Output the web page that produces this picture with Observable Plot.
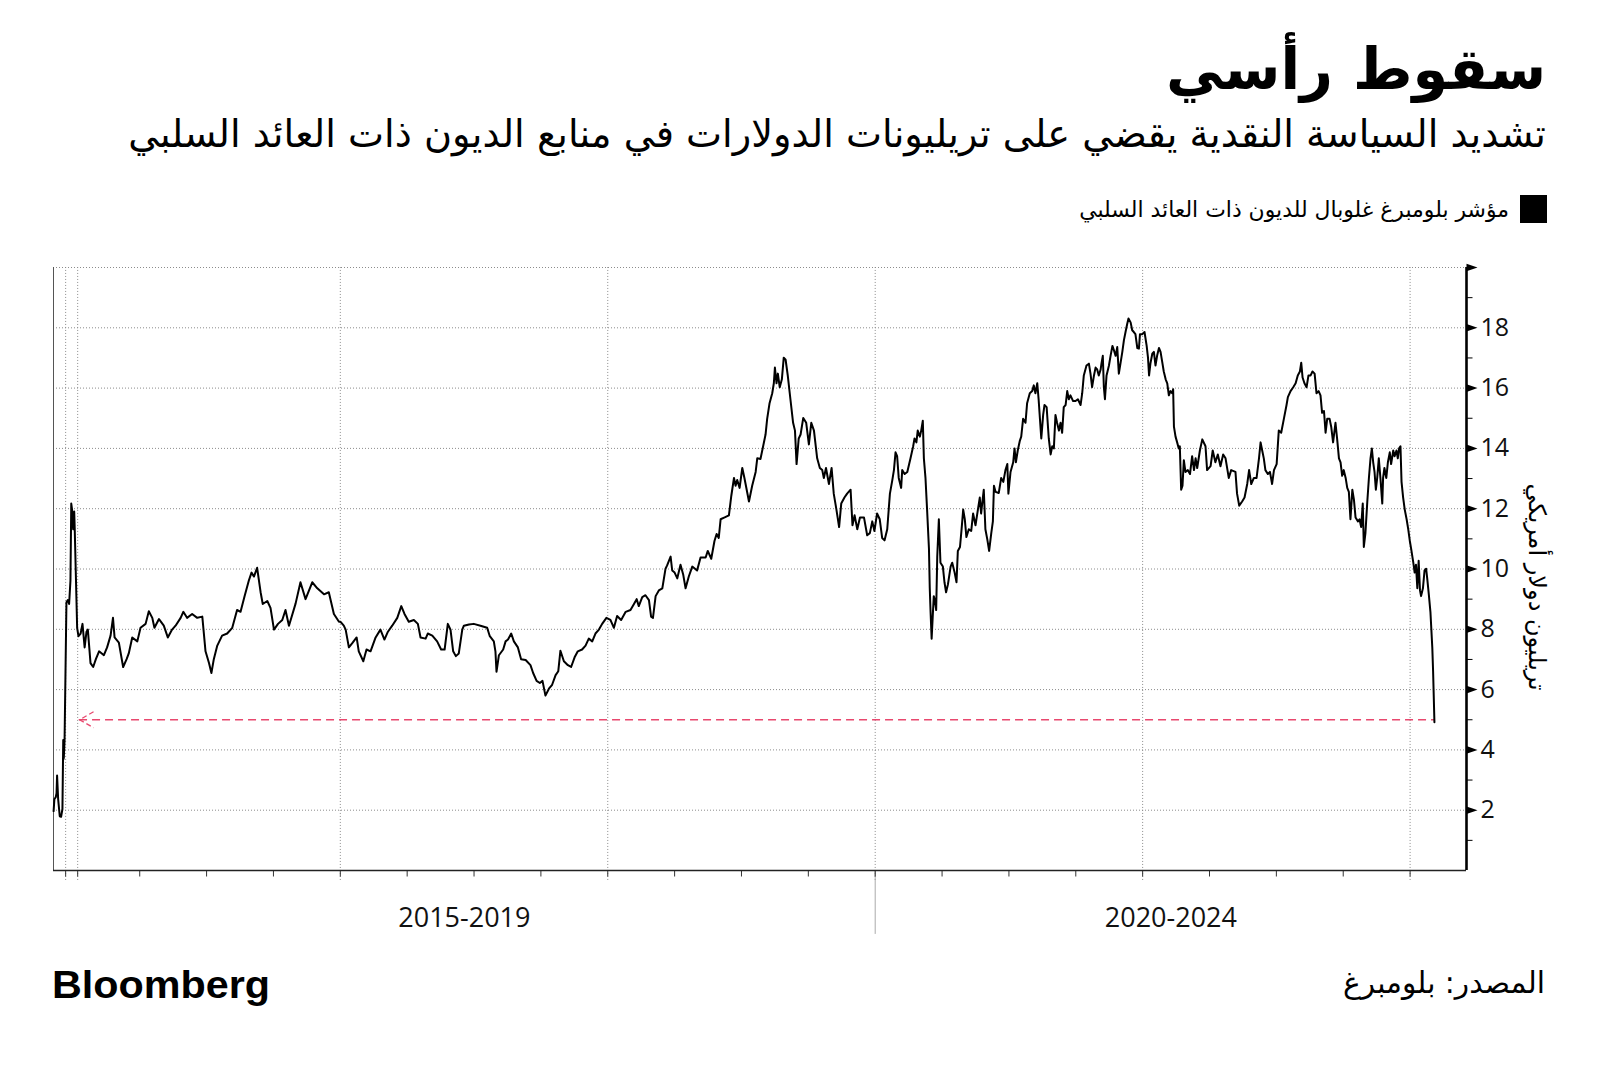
<!DOCTYPE html>
<html lang="ar">
<head>
<meta charset="utf-8">
<script src="https://cdn.jsdelivr.net/npm/d3@7"></script>
<script src="https://cdn.jsdelivr.net/npm/@observablehq/plot@0.6"></script>
<style>
  html, body { margin: 0; padding: 0; background: #fff; }
  #page { position: relative; width: 1600px; height: 1069px; background: #fff; overflow: hidden; }
  #header, #footer { position: absolute; left: 0; }
  #header { top: 0; }
  #footer { top: 960px; }
  #chart { position: absolute; left: 0; top: 240px; }
  .ar { font-family: "DejaVu Sans", "Noto Sans", sans-serif; }
</style>
</head>
<body>
<div id="page">
  <svg id="header" width="1600" height="240">
    <text class="ar" data-fit="380" x="1546" y="89" text-anchor="end" font-weight="bold" font-size="58" fill="#000">سقوط رأسي</text>
    <text class="ar" data-fit="1418" x="1546" y="147" text-anchor="end" font-size="36" fill="#000">تشديد السياسة النقدية يقضي على تريليونات الدولارات في منابع الديون ذات العائد السلبي</text>
    <rect x="1520" y="195" width="27" height="28" fill="#000"></rect>
    <text class="ar" data-fit="430" x="1509" y="217" text-anchor="end" font-size="23" fill="#000">مؤشر بلومبرغ غلوبال للديون ذات العائد السلبي</text>
  </svg>
  <div id="chart"></div>
  <svg id="footer" width="1600" height="109">
    <text x="52" y="38" font-family="Liberation Sans, Arial, sans-serif" font-weight="bold" font-size="38" textLength="218" lengthAdjust="spacingAndGlyphs" fill="#000">Bloomberg</text>
    <text class="ar" data-fit="202" x="1545" y="33" text-anchor="end" font-size="30" fill="#000">المصدر: بلومبرغ</text>
  </svg>
</div>
<script>
// ---- Data (decimal year, trillion USD) ----
const points = [
[2016.928,1.97],[2016.931,2.37],[2016.936,2.43],[2016.939,2.56],[2016.941,3.15],[2016.945,2.37],[2016.951,1.80],[2016.956,1.78],[2016.961,2.04],[2016.964,4.33],[2016.966,3.71],[2016.969,4.33],[2016.976,8.90],[2016.981,8.97],[2016.986,8.84],[2016.991,9.62],[2016.994,12.17],[2016.997,11.97],[2017.001,11.32],[2017.005,11.91],[2017.007,11.32],[2017.016,8.05],[2017.021,7.77],[2017.029,7.86],[2017.036,8.18],[2017.044,7.40],[2017.051,7.92],[2017.056,7.99],[2017.066,6.88],[2017.076,6.75],[2017.086,7.01],[2017.098,7.27],[2017.116,7.14],[2017.128,7.40],[2017.141,7.79],[2017.150,8.38],[2017.156,7.73],[2017.172,7.56],[2017.188,6.75],[2017.201,7.01],[2017.209,7.20],[2017.222,7.73],[2017.241,7.60],[2017.253,8.05],[2017.272,8.18],[2017.284,8.60],[2017.297,8.38],[2017.305,8.05],[2017.322,8.34],[2017.340,8.12],[2017.355,7.73],[2017.371,7.99],[2017.384,8.12],[2017.403,8.38],[2017.413,8.58],[2017.427,8.38],[2017.446,8.51],[2017.465,8.38],[2017.484,8.42],[2017.496,7.27],[2017.509,6.88],[2017.518,6.55],[2017.527,7.01],[2017.540,7.46],[2017.558,7.79],[2017.577,7.86],[2017.596,8.05],[2017.614,8.64],[2017.627,8.58],[2017.642,9.10],[2017.658,9.62],[2017.668,9.88],[2017.677,9.75],[2017.689,10.04],[2017.702,9.23],[2017.710,8.84],[2017.727,8.94],[2017.739,8.71],[2017.752,7.99],[2017.767,8.18],[2017.783,8.31],[2017.795,8.64],[2017.808,8.12],[2017.833,8.86],[2017.851,9.56],[2017.870,9.00],[2017.895,9.56],[2017.914,9.36],[2017.939,9.16],[2017.957,9.23],[2017.976,8.51],[2017.995,8.25],
[2018.001,8.25],[2018.013,8.12],[2018.020,7.99],[2018.032,7.40],[2018.044,7.53],[2018.061,7.73],[2018.069,7.27],[2018.086,6.94],[2018.098,7.33],[2018.113,7.27],[2018.132,7.73],[2018.150,7.99],[2018.165,7.66],[2018.178,7.92],[2018.194,8.12],[2018.213,8.38],[2018.228,8.77],[2018.240,8.51],[2018.256,8.25],[2018.275,8.31],[2018.290,8.18],[2018.300,7.73],[2018.319,7.69],[2018.327,7.86],[2018.344,7.79],[2018.362,7.60],[2018.377,7.33],[2018.390,7.33],[2018.402,8.18],[2018.412,7.99],[2018.422,7.27],[2018.432,7.11],[2018.443,7.20],[2018.456,7.99],[2018.462,8.12],[2018.481,8.16],[2018.499,8.18],[2018.524,8.12],[2018.549,8.05],[2018.559,7.77],[2018.574,7.60],[2018.580,7.27],[2018.584,6.59],[2018.593,7.14],[2018.609,7.33],[2018.618,7.60],[2018.627,7.66],[2018.639,7.86],[2018.649,7.60],[2018.664,7.40],[2018.676,7.01],[2018.693,6.98],[2018.711,6.81],[2018.721,6.55],[2018.734,6.29],[2018.746,6.22],[2018.756,6.29],[2018.767,5.80],[2018.780,6.03],[2018.792,6.16],[2018.805,6.48],[2018.815,6.61],[2018.823,7.29],[2018.836,6.94],[2018.851,6.81],[2018.863,6.75],[2018.876,7.07],[2018.888,7.27],[2018.904,7.33],[2018.917,7.46],[2018.929,7.69],[2018.942,7.60],[2018.954,7.86],[2018.967,7.99],[2018.979,8.18],[2018.995,8.38],[2019.010,8.31],[2019.023,8.05],[2019.035,8.44],[2019.050,8.31],[2019.067,8.58],
[2019.085,8.64],[2019.098,8.84],[2019.108,9.00],[2019.116,8.77],[2019.129,9.07],[2019.141,9.13],[2019.154,8.97],[2019.162,8.42],[2019.169,8.38],[2019.179,9.10],[2019.191,9.29],[2019.204,9.36],[2019.216,10.01],[2019.222,10.12],[2019.235,10.41],[2019.241,9.95],[2019.250,9.88],[2019.260,9.69],[2019.272,10.14],[2019.282,9.82],[2019.291,9.36],[2019.303,9.75],[2019.316,10.08],[2019.334,9.95],[2019.347,10.38],[2019.366,10.38],[2019.374,10.60],[2019.387,10.34],[2019.399,10.93],[2019.407,11.16],[2019.415,11.03],[2019.422,11.65],[2019.437,11.71],[2019.453,11.78],[2019.462,12.43],[2019.472,13.02],[2019.478,12.76],[2019.484,12.95],[2019.493,12.69],[2019.503,13.35],[2019.511,13.02],[2019.528,12.24],[2019.540,12.76],[2019.553,13.22],[2019.559,13.67],[2019.571,13.65],[2019.581,14.07],[2019.590,14.46],[2019.596,14.98],[2019.605,15.50],[2019.615,15.83],[2019.621,16.16],[2019.625,16.68],[2019.631,16.16],[2019.636,16.48],[2019.643,16.03],[2019.651,16.29],[2019.658,17.01],[2019.665,16.94],[2019.673,16.42],[2019.683,15.63],[2019.693,14.85],[2019.700,14.59],[2019.706,13.48],[2019.714,14.33],[2019.721,14.46],[2019.731,15.01],[2019.742,14.85],[2019.752,14.13],[2019.761,14.85],[2019.771,14.59],[2019.783,13.67],[2019.793,13.35],[2019.802,13.28],[2019.808,13.02],[2019.816,13.35],[2019.827,12.82],[2019.837,13.35],[2019.845,12.50],[2019.855,11.97],[2019.865,11.39],[2019.873,12.17],[2019.885,12.37],[2019.895,12.50],[2019.908,12.63],[2019.915,11.45],[2019.923,11.78],[2019.933,11.32],[2019.943,11.71],[2019.958,11.71],[2019.970,11.12],[2019.980,11.19],[2019.989,11.58],[2019.997,11.26],[2020.007,11.84],[2020.017,11.65],[2020.026,11.03],[2020.035,10.95],[2020.045,11.32],[2020.055,12.50],[2020.064,12.95],[2020.070,13.28],[2020.076,13.87],[2020.082,13.74],[2020.088,13.02],[2020.097,12.69],
[2020.101,13.28],[2020.110,13.15],[2020.120,13.22],[2020.132,13.67],[2020.142,14.07],[2020.147,14.33],[2020.154,14.20],[2020.159,14.59],[2020.167,14.39],[2020.172,14.59],[2020.178,14.92],[2020.182,13.67],[2020.188,13.02],[2020.194,11.97],[2020.201,10.67],[2020.204,9.36],[2020.207,8.58],[2020.211,7.69],[2020.216,8.58],[2020.219,9.10],[2020.223,8.97],[2020.228,8.64],[2020.232,10.41],[2020.238,11.65],[2020.244,10.21],[2020.253,10.08],[2020.259,9.56],[2020.265,9.23],[2020.272,9.49],[2020.282,10.08],[2020.288,10.21],[2020.297,9.88],[2020.304,9.56],[2020.309,10.60],[2020.317,10.73],[2020.323,11.32],[2020.329,11.97],[2020.335,11.65],[2020.341,11.06],[2020.350,11.32],[2020.359,11.26],[2020.366,11.84],[2020.375,11.45],[2020.384,11.97],[2020.391,12.37],[2020.396,11.84],[2020.401,12.24],[2020.406,12.63],[2020.412,11.32],[2020.419,10.99],[2020.426,10.60],[2020.434,11.19],[2020.440,11.58],[2020.444,12.76],[2020.450,12.56],[2020.462,12.52],[2020.471,13.02],[2020.479,12.89],[2020.487,13.28],[2020.494,13.48],[2020.498,12.50],[2020.506,13.22],[2020.516,13.54],[2020.521,14.00],[2020.526,13.54],[2020.533,13.93],[2020.541,14.26],[2020.546,14.39],[2020.553,14.98],[2020.562,14.85],[2020.568,15.50],[2020.578,15.83],[2020.587,15.90],[2020.593,16.09],[2020.599,15.83],[2020.606,16.16],[2020.611,15.63],[2020.616,14.98],[2020.621,14.33],[2020.628,15.11],[2020.633,15.44],[2020.641,15.37],[2020.649,14.33],[2020.656,13.80],[2020.662,14.07],[2020.668,14.00],[2020.674,15.11],[2020.680,14.85],[2020.687,14.59],[2020.693,14.85],[2020.699,14.52],[2020.705,15.37],[2020.712,15.44],[2020.718,15.90],[2020.724,15.63],[2020.730,15.76],[2020.740,15.57],[2020.749,15.57],[2020.758,15.63],[2020.768,15.44],[2020.774,15.83],[2020.780,16.42],[2020.790,16.75],[2020.799,16.81],[2020.805,16.48],[2020.811,16.03],[2020.818,16.42],[2020.824,16.68],[2020.830,16.62],[2020.836,16.42],[2020.843,16.62],[2020.846,16.81],[2020.851,17.07],[2020.855,16.03],[2020.859,15.63],[2020.865,16.42],[2020.874,16.75],[2020.880,17.07],[2020.887,17.40],[2020.892,17.27],[2020.899,17.07],[2020.905,17.36],[2020.911,16.48],[2020.917,16.81],[2020.924,17.20],[2020.930,17.59],[2020.936,17.86],[2020.942,18.12],[2020.947,18.31],[2020.955,18.18],[2020.961,17.92],[2020.967,17.86],[2020.973,17.79],[2020.980,17.33],[2020.986,17.31],[2020.990,17.79],[2020.998,17.79],[2021.007,17.86],[2021.015,17.40],[2021.020,17.01],[2021.024,16.42],[2021.029,16.81],[2021.036,17.14],[2021.042,17.20],[2021.048,16.75],[2021.054,17.07],[2021.061,17.33],[2021.067,17.20],[2021.073,16.88],[2021.079,16.55],[2021.086,16.29],[2021.092,16.16],[2021.098,15.76],[2021.104,15.90],[2021.110,15.83],[2021.114,15.96],[2021.117,14.72],[2021.123,14.39],[2021.129,14.20],[2021.135,14.00],[2021.139,14.07],[2021.144,12.63],[2021.149,12.76],[2021.154,13.61],[2021.160,13.22],[2021.169,13.28],[2021.177,13.15],[2021.185,13.74],[2021.192,13.28],[2021.198,13.67],[2021.204,13.35],[2021.214,13.93],
[2021.223,14.30],[2021.235,14.07],[2021.241,13.28],[2021.254,13.41],[2021.262,13.93],[2021.272,13.54],[2021.281,13.80],[2021.291,13.41],[2021.301,13.80],[2021.310,13.67],[2021.322,13.02],[2021.331,13.28],[2021.347,13.22],[2021.353,12.50],[2021.361,12.10],[2021.372,12.24],[2021.381,12.37],[2021.391,12.82],[2021.398,13.28],[2021.406,12.82],[2021.416,13.02],[2021.426,13.02],[2021.435,13.67],[2021.441,14.20],[2021.447,13.93],[2021.453,13.67],[2021.459,13.28],[2021.468,13.15],[2021.476,13.22],[2021.484,12.82],[2021.491,13.28],[2021.501,13.48],[2021.509,14.59],[2021.518,14.52],[2021.528,14.98],[2021.538,15.44],[2021.543,15.70],[2021.553,15.90],[2021.563,16.03],[2021.572,16.16],[2021.580,16.42],[2021.588,16.55],[2021.593,16.84],[2021.598,16.35],[2021.605,16.16],[2021.613,16.03],[2021.620,16.42],[2021.628,16.42],[2021.635,16.55],[2021.643,16.48],[2021.650,15.83],[2021.658,15.90],[2021.665,15.76],[2021.671,15.18],[2021.678,15.24],[2021.684,14.52],[2021.690,14.98],[2021.699,14.98],[2021.705,14.72],[2021.712,14.20],[2021.721,14.85],[2021.727,14.33],[2021.734,13.67],[2021.740,13.54],[2021.746,13.09],[2021.752,13.28],[2021.759,13.02],[2021.765,12.69],[2021.771,12.56],[2021.777,11.65],[2021.784,12.63],[2021.790,12.30],[2021.796,11.71],[2021.805,11.58],[2021.811,11.65],[2021.817,11.39],[2021.823,12.17],[2021.827,10.73],[2021.833,11.19],[2021.840,12.24],[2021.846,13.02],[2021.852,13.67],[2021.857,14.00],[2021.862,13.54],[2021.867,13.22],[2021.872,12.63],[2021.877,13.02],[2021.883,13.67],[2021.889,13.02],[2021.896,12.17],[2021.899,13.02],[2021.904,13.35],[2021.911,13.02],[2021.917,13.54],[2021.924,13.87],[2021.929,13.48],[2021.937,13.93],[2021.942,13.74],[2021.949,13.93],[2021.954,13.67],[2021.959,14.00],[2021.964,14.07],[2021.968,12.89],[2021.974,12.37],[2021.980,11.97],[2021.987,11.65],[2021.993,11.32],[2021.999,10.93],[2022.004,10.67],[2022.012,10.21],[2022.017,9.88],[2022.022,10.14],[2022.027,9.36],[2022.032,10.27],[2022.037,9.29],[2022.041,9.10],[2022.048,9.36],[2022.054,9.95],[2022.060,10.01],[2022.064,9.69],[2022.070,9.16],[2022.076,8.58],[2022.083,7.40],[2022.086,6.61],[2022.091,4.92]
];

const xDomain = [2016.9276, 2022.2109];
const yDomain = [0, 20];
const yGrid = [2, 4, 6, 8, 10, 12, 14, 16, 18, 20];
const yMajorTicks = [2, 4, 6, 8, 10, 12, 14, 16, 18, 20];
const yMinorTicks = [1, 3, 5, 7, 9, 11, 13, 15, 17, 19];
const yTickLabels = [2, 4, 6, 8, 10, 12, 14, 16, 18];
const xGrid = [2016.973, 2017.018, 2018, 2019, 2020, 2021, 2022];
const xTicks = [2016.973, 2017.018, 2017.25, 2017.5, 2017.75, 2018, 2018.25, 2018.5, 2018.75, 2019, 2019.25, 2019.5, 2019.75, 2020, 2020.25, 2020.5, 2020.75, 2021, 2021.25, 2021.5, 2021.75, 2022];
const periodBreak = 2020;
const periodLabels = ["2015-2019", "2020-2024"];
const refValue = 5;
const refStart = 2017.025;
const yTitle = "تريليون دولار أمريكي";

const series = points.map(([t, v]) => ({t, v}));
const lastT = points[points.length - 1][0];
const periods = [
  {x: (xDomain[0] + periodBreak) / 2, label: periodLabels[0]},
  {x: (periodBreak + xDomain[1]) / 2, label: periodLabels[1]}
];

// custom symbols
const triRight = {draw(c) { c.moveTo(0, -3.8); c.lineTo(11, 0); c.lineTo(0, 3.8); c.closePath(); }};
const hTick = {draw(c) { c.moveTo(0, 0); c.lineTo(6, 0); }};
const vTick = {draw(c) { c.moveTo(0, 0); c.lineTo(0, 6); }};
const chevron = {draw(c) { c.moveTo(14, -8); c.lineTo(0, 0); c.lineTo(14, 8); }};

const xMax = () => xDomain[1];
const red = "#e8486e";

const chart = Plot.plot({
  width: 1600,
  height: 720,
  marginLeft: 53,
  marginRight: 134,
  marginTop: 27,
  marginBottom: 90,
  x: {type: "linear", domain: xDomain, axis: null},
  y: {type: "linear", domain: yDomain, axis: null},
  style: {fontFamily: "'Open Sans', sans-serif", background: "#fff", color: "#000", overflow: "visible"},
  marks: [
    Plot.ruleY(yGrid, {stroke: "#8c8c8c", strokeWidth: 1, strokeDasharray: "1,2"}),
    Plot.ruleX(xGrid, {y1: -0.33, y2: yDomain[1], stroke: "#8c8c8c", strokeWidth: 1, strokeDasharray: "1,2"}),
    Plot.ruleX([xDomain[0]], {y1: 0, y2: yDomain[1], stroke: "#555", strokeWidth: 1}),
    Plot.ruleX([periodBreak], {y1: 0, y2: -2.12, stroke: "#aaa", strokeWidth: 1}),
    Plot.dot(xTicks, {x: d => d, y: () => 0, symbol: vTick, r: 4, stroke: "#333", fill: "none", strokeWidth: 1}),
    Plot.ruleY([0], {stroke: "#222", strokeWidth: 1.6}),
    Plot.ruleY([refValue], {x1: refStart, x2: lastT, stroke: red, strokeWidth: 1.3, strokeDasharray: "8,5"}),
    Plot.dot([refValue], {x: () => refStart, y: d => d, symbol: chevron, r: 4, stroke: red, fill: "none", strokeWidth: 1.3, strokeDasharray: "5,3"}),
    Plot.line(series, {x: "t", y: "v", stroke: "#000", strokeWidth: 2, strokeLinejoin: "round"}),
    Plot.ruleX([xDomain[1]], {y1: 0, y2: yDomain[1], stroke: "#000", strokeWidth: 2.6}),
    Plot.dot(yMajorTicks, {x: xMax, y: d => d, symbol: triRight, r: 4, fill: "#000", stroke: "none"}),
    Plot.dot(yMinorTicks, {x: xMax, y: d => d, symbol: hTick, r: 4, stroke: "#000", fill: "none", strokeWidth: 1}),
    Plot.text(yTickLabels, {x: xMax, y: d => d, text: d => String(d), dx: 14, textAnchor: "start", fontSize: 25, fill: "#111"}),
    Plot.text([yTitle], {x: xMax, y: () => 9.4, text: d => d, dx: 70, rotate: 90, fontSize: 24, fontFamily: "DejaVu Sans", fill: "#000"}),
    Plot.text(periods, {x: "x", y: () => 0, text: "label", dy: 48, fontSize: 27, fill: "#111"})
  ]
});
document.getElementById("chart").appendChild(chart);

// fit Arabic header/footer text widths to the reference layout
document.querySelectorAll("text[data-fit]").forEach(el => {
  const target = +el.dataset.fit;
  const fs = parseFloat(el.getAttribute("font-size"));
  const len = el.getComputedTextLength();
  if (len > 0) {
    let s = target / len;
    s = Math.max(0.7, Math.min(1.35, s));
    el.setAttribute("font-size", (fs * s).toFixed(2));
  }
});
</script>
</body>
</html>
